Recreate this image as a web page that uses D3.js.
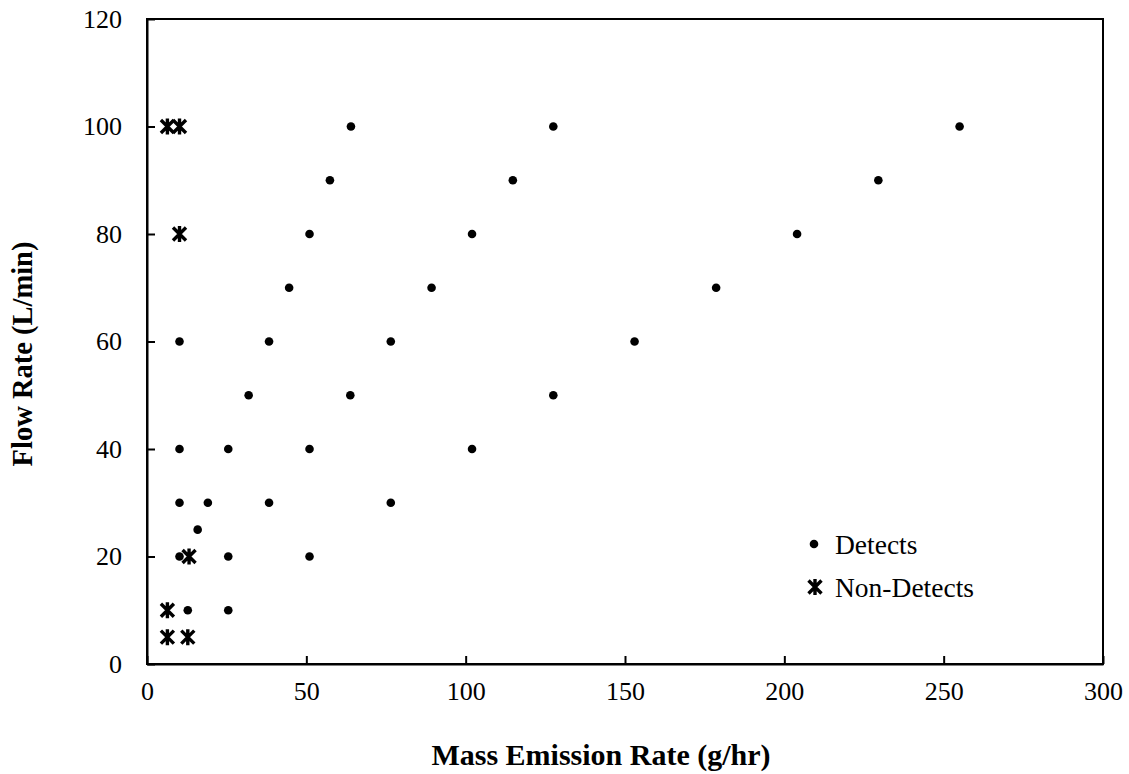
<!DOCTYPE html>
<html>
<head>
<meta charset="utf-8">
<script src="https://cdn.jsdelivr.net/npm/d3@7"></script>
<style>
  body { margin: 0; background: #fff; }
  svg text { font-family: "Liberation Serif", "Times New Roman", serif; fill: #000; }
</style>
</head>
<body>
<div id="chart"></div>
<script>
// Detects: mass emission rate (g/hr) vs flow rate (L/min)
const detectX = [64, 127.5, 255, 57.4, 114.8, 229.5, 51, 102, 204, 44.6, 89.3, 178.6,
                 10.2, 38.3, 76.5, 153, 31.9, 63.8, 127.5, 10.2, 25.5, 51, 102,
                 10.2, 19.1, 38.3, 76.5, 15.9, 10.2, 25.5, 51, 12.8, 25.5];
const detectY = [100, 100, 100, 90, 90, 90, 80, 80, 80, 70, 70, 70,
                 60, 60, 60, 60, 50, 50, 50, 40, 40, 40, 40,
                 30, 30, 30, 30, 25, 20, 20, 20, 10, 10];

// Non-detects
const nonDetectX = [6.4, 10.2, 10.2, 13.2, 6.4, 6.4, 12.8];
const nonDetectY = [100, 100, 80, 20, 10, 5, 5];

const xTicks = [0, 50, 100, 150, 200, 250, 300];
const yTicks = [0, 20, 40, 60, 80, 100, 120];

const width = 1129, height = 774;
const margin = { top: 19, right: 26, bottom: 110, left: 147 };

const svg = d3.select("#chart").append("svg")
    .attr("width", width)
    .attr("height", height);

const x = d3.scaleLinear().domain([0, 300]).range([margin.left, width - margin.right]);
const y = d3.scaleLinear().domain([0, 120]).range([height - margin.bottom, margin.top]);

// plot frame
svg.append("rect")
    .attr("x", x(0)).attr("y", y(120))
    .attr("width", x(300) - x(0)).attr("height", y(0) - y(120))
    .attr("fill", "none").attr("stroke", "#000").attr("stroke-width", 2);

// axes with inward ticks
const xAxis = svg.append("g")
    .attr("transform", `translate(0,${y(0)})`)
    .call(d3.axisBottom(x).tickValues(xTicks).tickSizeInner(-8).tickSizeOuter(0).tickPadding(22));
const yAxis = svg.append("g")
    .attr("transform", `translate(${x(0)},0)`)
    .call(d3.axisLeft(y).tickValues(yTicks).tickSizeInner(-8).tickSizeOuter(0).tickPadding(25));

[xAxis, yAxis].forEach(g => {
    g.attr("font-family", null).attr("font-size", null);
    g.select(".domain").attr("stroke", "#000").attr("stroke-width", 2);
    g.selectAll(".tick line").attr("stroke", "#000").attr("stroke-width", 2);
    g.selectAll(".tick text")
        .style("font-family", "'Liberation Serif', serif")
        .style("font-size", "26px");
});
xAxis.selectAll(".tick text").attr("dy", "0.55em");

// axis titles
svg.append("text")
    .attr("x", 601)
    .attr("y", 765)
    .attr("text-anchor", "middle")
    .style("font-size", "30px")
    .style("font-weight", "bold")
    .text("Mass Emission Rate (g/hr)");

svg.append("text")
    .attr("transform", `translate(32,354) rotate(-90)`)
    .attr("text-anchor", "middle")
    .style("font-size", "28.5px")
    .style("font-weight", "bold")
    .text("Flow Rate (L/min)");

// star marker path (X with vertical bar)
const starPath = "M-6.5,-6.5L6.5,6.5M-6.5,6.5L6.5,-6.5M0,-8L0,8";

// detects
svg.append("g")
    .selectAll("circle")
    .data(detectX.map((d, i) => [d, detectY[i]]))
    .enter()
    .append("circle")
    .attr("cx", d => x(d[0]))
    .attr("cy", d => y(d[1]))
    .attr("r", 4.3)
    .attr("fill", "#000");

// non-detects
svg.append("g")
    .selectAll("path")
    .data(nonDetectX.map((d, i) => [d, nonDetectY[i]]))
    .enter()
    .append("path")
    .attr("transform", d => `translate(${x(d[0])},${y(d[1])})`)
    .attr("d", starPath)
    .attr("stroke", "#000")
    .attr("stroke-width", 3.4)
    .attr("fill", "none");

// legend
const legend = svg.append("g");
legend.append("circle").attr("cx", 814).attr("cy", 544).attr("r", 4.3).attr("fill", "#000");
legend.append("text").attr("x", 835).attr("y", 544).attr("dy", "0.35em")
    .style("font-size", "27.5px").text("Detects");
legend.append("path").attr("transform", "translate(815,587)").attr("d", starPath)
    .attr("stroke", "#000").attr("stroke-width", 3.4).attr("fill", "none");
legend.append("text").attr("x", 835).attr("y", 587).attr("dy", "0.35em")
    .style("font-size", "27.5px").text("Non-Detects");
</script>
</body>
</html>
